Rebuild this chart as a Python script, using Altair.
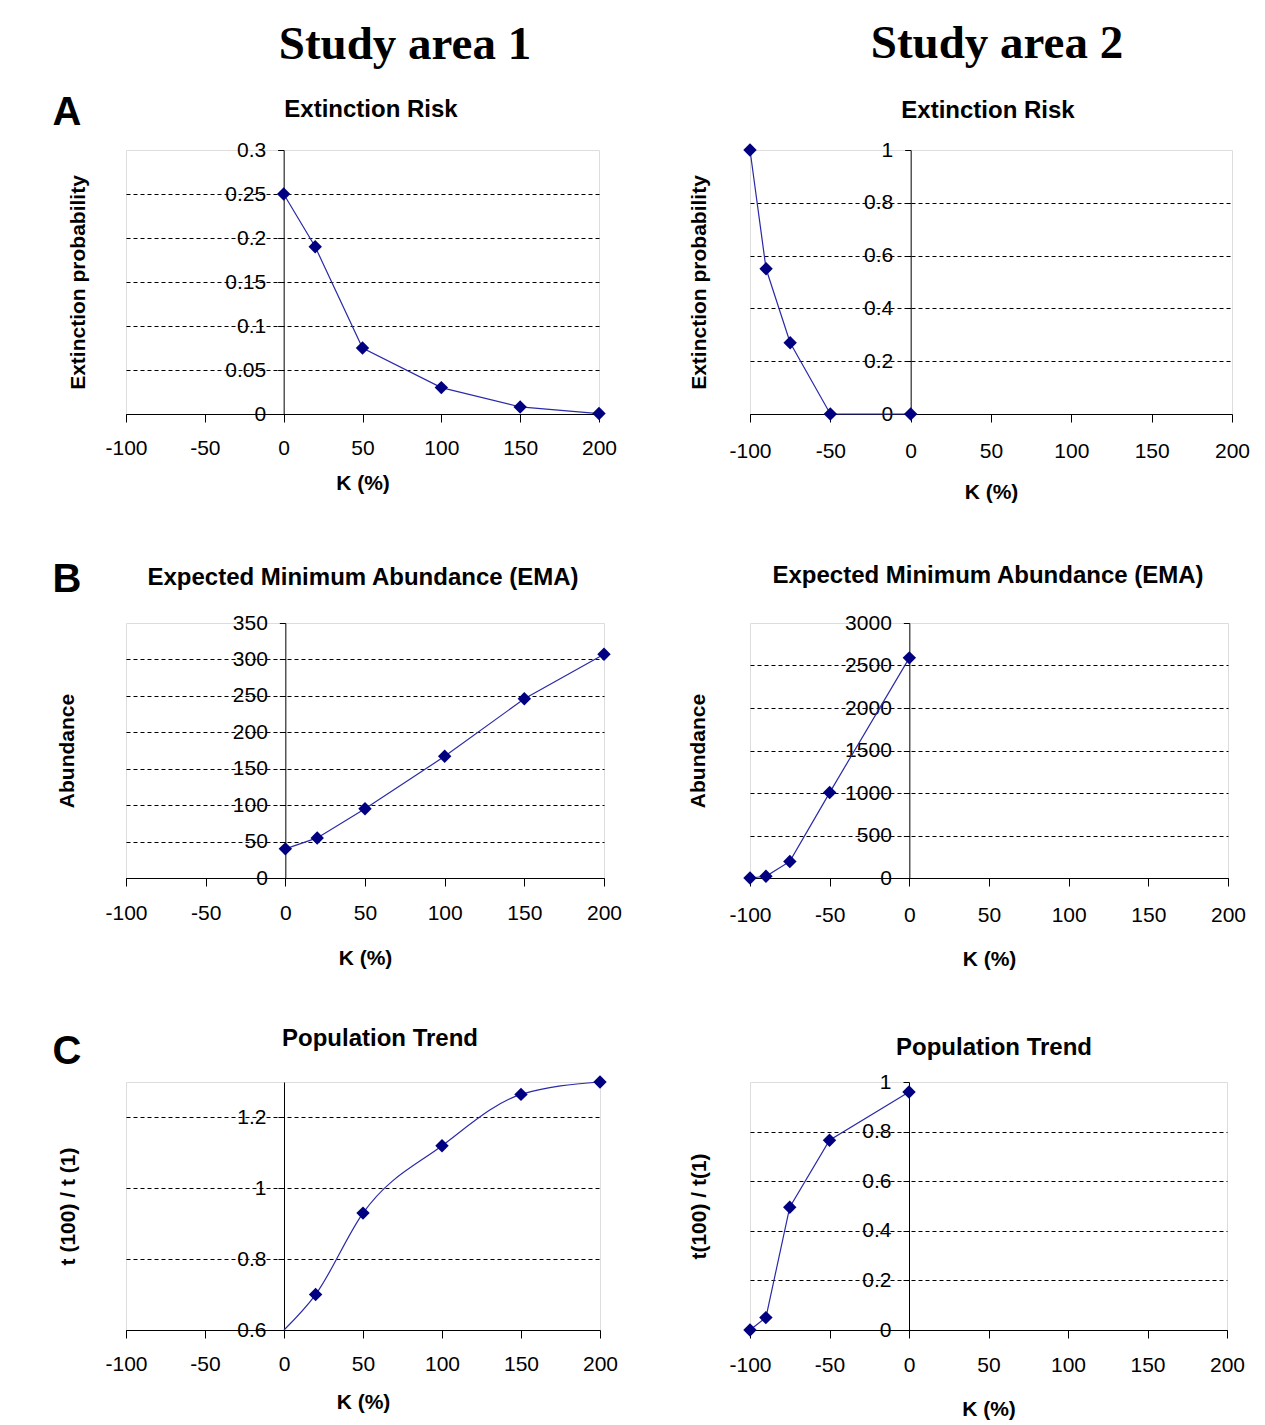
import altair as alt
import pandas as pd

# ---- data ----
K1 = [0, 20, 50, 100, 150, 200]
ext1 = [0.25, 0.19, 0.075, 0.03, 0.008, 0.0005]
ema1 = [40, 55, 95, 167, 246, 307]
trend1 = [0.6, 0.70, 0.93, 1.12, 1.265, 1.30]
trend1_marked = [False, True, True, True, True, True]

K2 = [-100, -90, -75, -50, 0]
ext2 = [1.0, 0.55, 0.27, 0.0, 0.0]
ema2 = [0, 20, 195, 1005, 2590]
trend2 = [0.0, 0.05, 0.495, 0.765, 0.96]

x_ticks = [-100, -50, 0, 50, 100, 150, 200]

ext1_ticks = [0, 0.05, 0.1, 0.15, 0.2, 0.25, 0.3]
ema1_ticks = [0, 50, 100, 150, 200, 250, 300, 350]
trend1_ticks = [0.6, 0.8, 1.0, 1.2]
ext2_ticks = [0, 0.2, 0.4, 0.6, 0.8, 1.0]
ema2_ticks = [0, 500, 1000, 1500, 2000, 2500, 3000]
trend2_ticks = [0, 0.2, 0.4, 0.6, 0.8, 1.0]

# ---- styling ----
SANS = "Liberation Sans"
SERIF = "Liberation Serif"
LINE_COLOR = "#2a2aa8"
MARK_COLOR = "#000080"


def text_layer(txt, x, y, size, font=SANS, weight="bold"):
    return alt.Chart(pd.DataFrame({"t": [txt]})).mark_text(
        font=font, fontSize=size, fontWeight=weight, color="black",
        align="center", baseline="middle"
    ).encode(text="t:N", x=alt.value(x), y=alt.value(y))


def panel(xs, ys, ydomain, yticks, ytitle, W, h, ytitle_dx,
          title, title_pos, letter=None, letter_pos=None,
          header=None, header_pos=None, marked=None, interp="linear",
          xlab_pad=14, xtitle_pad=12):
    if marked is None:
        marked = [True] * len(xs)
    df = pd.DataFrame({"K": xs, "v": ys, "m": marked})
    ymax = ydomain[1]
    x_enc = alt.X(
        "K:Q",
        scale=alt.Scale(domain=[-100, 200], nice=False, zero=False),
        axis=alt.Axis(
            values=x_ticks, title="K (%)", labelExpr="'' + datum.value",
            labelFont=SANS, labelFontSize=21, labelColor="black",
            labelPadding=xlab_pad, tickSize=8, tickColor="black",
            domainColor="black", domainWidth=1, grid=False,
            titleFont=SANS, titleFontSize=21, titleFontWeight="bold",
            titleColor="black", titlePadding=xtitle_pad, labelFlush=False,
            labelOverlap=False,
        ),
    )
    y_enc = alt.Y(
        "v:Q",
        scale=alt.Scale(domain=ydomain, nice=False, zero=False),
        axis=alt.Axis(
            values=yticks, title=ytitle, labelExpr="'' + datum.value",
            offset=-W / 3, labelFont=SANS, labelFontSize=21,
            labelColor="black", labelPadding=12, tickSize=6,
            tickColor="black", domainColor="black", domainWidth=1,
            grid=True, gridColor="black", gridDash=[4, 3], gridWidth=1,
            gridOpacity={"condition": {"test": f"datum.value >= {ymax}", "value": 0}, "value": 1},
            titleFont=SANS, titleFontSize=21, titleFontWeight="bold",
            titleColor="black", titleX=-W / 3 + ytitle_dx, titleBaseline="middle",
            labelFlush=False, labelOverlap=False,
        ),
    )
    base = alt.Chart(df)
    line = base.mark_line(color=LINE_COLOR, strokeWidth=1.2, interpolate=interp).encode(x=x_enc, y=y_enc)
    pts = base.transform_filter("datum.m").mark_point(
        shape="diamond", filled=True, size=180, color=MARK_COLOR, opacity=1
    ).encode(x=x_enc, y=y_enc)
    layers = [line, pts, text_layer(title, title_pos[0], title_pos[1], 24)]
    if letter:
        layers.append(text_layer(letter, letter_pos[0], letter_pos[1], 40))
    if header:
        layers.append(text_layer(header, header_pos[0], header_pos[1], 47, font=SERIF))
    return alt.layer(*layers).properties(width=W, height=h)


a1 = panel(K1, ext1, [0, 0.3], ext1_ticks, "Extinction probability", 473, 264, -48,
           "Extinction Risk", (245, -40), "A", (-59, -37), "Study area 1", (279, -105),
           xlab_pad=15, xtitle_pad=14)
a2 = panel(K2, ext2, [0, 1], ext2_ticks, "Extinction probability", 482, 264, -51,
           "Extinction Risk", (238, -39), header="Study area 2", header_pos=(247, -106),
           xlab_pad=18, xtitle_pad=20)

b1 = panel(K1, ema1, [0, 350], ema1_ticks, "Abundance", 478, 255, -58,
           "Expected Minimum Abundance (EMA)", (237, -45), "B", (-59, -43),
           xlab_pad=16, xtitle_pad=24)
b2 = panel(K2, ema2, [0, 3000], ema2_ticks, "Abundance", 478, 255, -52,
           "Expected Minimum Abundance (EMA)", (238, -47),
           xlab_pad=18, xtitle_pad=23)

c1 = panel(K1, trend1, [0.6, 1.3], trend1_ticks, "t (100) / t (1)", 474, 248, -58,
           "Population Trend", (254, -43), "C", (-59, -30),
           marked=trend1_marked, interp="monotone",
           xlab_pad=15, xtitle_pad=17)
c2 = panel(K2, trend2, [0, 1], trend2_ticks, "t(100) / t(1)", 477, 248, -51,
           "Population Trend", (244, -34),
           xlab_pad=16, xtitle_pad=23)

row_a = alt.hconcat(a1, a2, spacing=69)
row_b = alt.hconcat(b1, b2, spacing=63)
row_c = alt.hconcat(c1, c2, spacing=68)

chart = alt.vconcat(row_a, row_b, row_c, spacing=56).properties(
    padding={"left": 52, "top": 19, "right": 5, "bottom": 5}
).configure_view(stroke="#a0a0a0", strokeWidth=1).configure(background="white")

chart.save("out.html", embed_options={"renderer": "svg", "actions": False})
